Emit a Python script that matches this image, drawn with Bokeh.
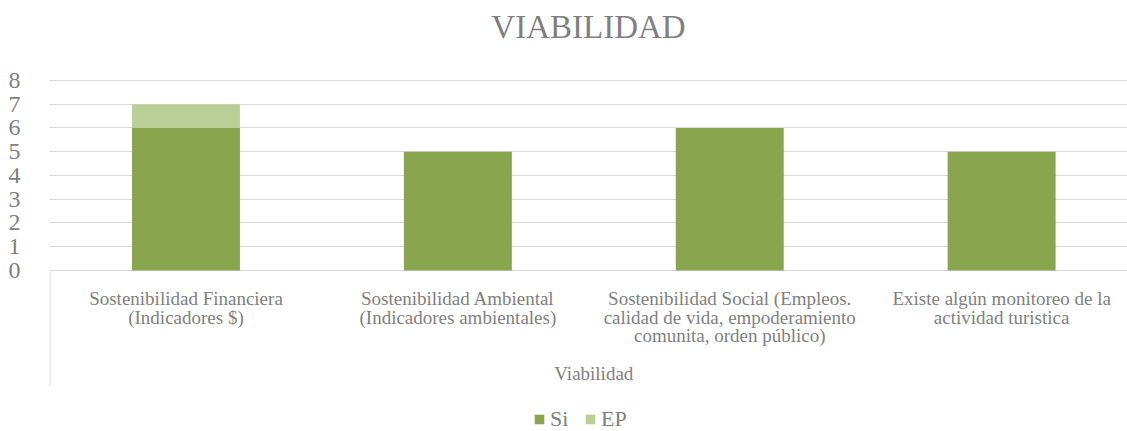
from bokeh.plotting import figure
from bokeh.models import FixedTicker, Legend, LegendItem, ColumnDataSource, Range1d
from bokeh.core.properties import value
from bokeh.embed import file_html
from bokeh.resources import INLINE

categories = [
    "Sostenibilidad Financiera\n(Indicadores $)",
    "Sostenibilidad Ambiental\n(Indicadores ambientales)",
    "Sostenibilidad Social (Empleos.\ncalidad de vida, empoderamiento\ncomunita, orden público)",
    "Existe algún monitoreo de la\nactividad turistica",
]
si = [6, 5, 6, 5]
ep = [1, 0, 0, 0]
series = ["Si", "EP"]
y_ticks = [0, 1, 2, 3, 4, 5, 6, 7, 8]
axis_title = "Viabilidad"

FONT = "Liberation Serif"
TEXT = "#7f7f7f"
GRID = "#d9d9d9"
COLORS = ["#89a54e", "#bacf97"]

xs = list(range(len(categories)))
source = ColumnDataSource(data=dict(x=xs, Si=si, EP=ep, zero=[0] * len(xs), label=categories))

Y_BOTTOM = -6.78
BOX_BOTTOM = -4.84
p = figure(
    width=1127, height=431,
    x_range=Range1d(-0.502, 3.463), y_range=Range1d(Y_BOTTOM, 9.305),
    output_backend="svg", toolbar_location=None,
    min_border_left=49, min_border_right=0, min_border_top=49, min_border_bottom=0,
    title="VIABILIDAD",
)
p.outline_line_color = None
p.background_fill_color = "white"

p.title.align = "center"
p.title.text_font = FONT
p.title.text_font_size = "33px"
p.title.text_font_style = "normal"
p.title.text_color = TEXT

renderers = p.vbar_stack(series, x="x", width=0.397, source=source, color=COLORS, line_color=None)

p.yaxis.ticker = FixedTicker(ticks=y_ticks)
p.yaxis.axis_line_color = None
p.yaxis.major_tick_line_color = None
p.yaxis.minor_tick_line_color = None
p.yaxis.major_label_standoff = 23
p.yaxis.major_label_text_font = FONT
p.yaxis.major_label_text_font_size = "24px"
p.yaxis.major_label_text_color = TEXT

p.ygrid.ticker = FixedTicker(ticks=y_ticks)
p.ygrid.grid_line_color = GRID
p.xgrid.visible = False
p.xaxis.visible = False

p.text(x="x", y="zero", text="label", source=source, y_offset=18,
       text_align="center", text_baseline="top", text_font=value(FONT),
       text_font_size="19px", text_color=TEXT, text_line_height=0.87)
p.text(x=[(xs[0] + xs[-1]) / 2], y=[0], text=[axis_title], y_offset=103,
       text_align="center", text_baseline="middle", text_font=value(FONT),
       text_font_size="19px", text_color=TEXT)

p.segment(x0=[-0.5], y0=[0], x1=[-0.5], y1=[BOX_BOTTOM], line_color=GRID, line_width=1)

legend = Legend(
    items=[LegendItem(label=s, renderers=[r]) for s, r in zip(series, renderers)],
    orientation="horizontal", location=(484, -1),
    border_line_color=None, background_fill_alpha=0,
    label_text_font=FONT, label_text_font_size="22px", label_text_color=TEXT,
    glyph_width=12, glyph_height=12, label_standoff=5, spacing=14,
    padding=0, margin=0,
)
p.add_layout(legend)

open("out.html", "w").write(file_html(p, INLINE))
